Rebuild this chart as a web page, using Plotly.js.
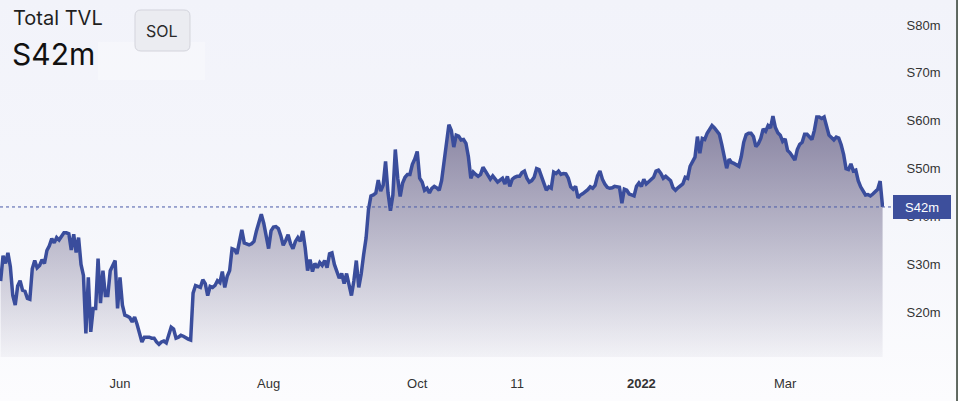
<!DOCTYPE html>
<html>
<head>
<meta charset="utf-8">
<script src="https://cdn.plot.ly/plotly-3.0.1.min.js"></script>
<style>
html,body{margin:0;padding:0;background:#ffffff;}
#chart{width:958px;height:401px;background:linear-gradient(180deg,#f2f3fa 0%,#f5f6fb 55%,#fcfcfe 100%);}
</style>
</head>
<body>
<div id="chart"></div>
<script>
// ---- data: daily Total TVL (millions) ----
const monthKeys = ['2021-04','2021-05','2021-06','2021-07','2021-08','2021-09','2021-10','2021-11','2021-12','2022-01','2022-02','2022-03','2022-04'];
const monthFirstDay = [13,1,1,1,1,1,1,1,1,1,1,1,1];

const tvlApr21 = [26.5,31.8,30.2,32.4,29.5,23.5,21.5,25.5,26.6,24.6,24.4,22.9,22.7,29.1,30.8,29.3,29.8,31.0];
const tvlMay21 = [30.2,32.9,33.9,35.4,34.5,35.6,35.1,36.0,36.6,36.6,36.4,33.0,36.3,32.5,35.6,30.0,27.7,15.6,27.3,15.9,20.8,20.8,31.2,21.9,28.7,23.5,23.5,28.7,29.8,30.8,20.8];
const tvlJun21 = [27.3,21.5,19.4,19.2,18.9,18.0,19.0,17.5,15.5,13.8,14.8,14.8,14.8,14.6,14.6,13.8,13.3,13.8,14.0,13.6,15.5,16.9,16.5,14.6,14.8,15.2,15.0,14.6,14.4,14.2];
const tvlJul21 = [24.0,25.6,25.4,25.2,26.8,26.0,23.5,25.4,25.2,25.6,26.6,26.2,28.5,25.2,27.5,28.7,33.3,33.1,32.2,35.0,37.2,34.5,34.2,34.1,34.3,34.8,37.0,39.0,40.5,38.6,36.0];
const tvlAug21 = [33.3,37.0,37.8,37.9,37.5,36.0,34.0,35.0,36.2,34.3,33.3,34.8,35.6,34.8,37.0,33.5,28.7,31.0,28.5,30.2,29.3,30.4,29.8,30.8,29.3,32.2,32.4,30.0,28.7,27.1,28.1];
const tvlSep21 = [26.0,28.1,25.6,23.5,26.6,30.8,25.2,28.0,32.0,35.5,41.5,44.3,44.5,44.9,47.6,45.3,46.5,51.5,45.0,41.2,44.5,54.0,48.0,44.2,47.0,48.2,48.8,48.8,50.9,52.0];
const tvlOct21 = [53.6,48.0,47.2,45.5,45.9,44.9,45.9,46.3,46.0,45.5,47.5,51.5,55.5,59.2,58.0,54.5,57.0,56.8,56.0,56.1,55.3,52.5,48.0,49.3,48.8,48.4,48.8,50.3,49.5,48.5,47.8];
const tvlNov21 = [48.5,47.8,47.2,47.6,48.0,46.8,48.4,46.3,47.8,48.2,48.4,48.4,49.2,49.5,48.0,47.2,47.5,48.2,50.0,49.8,48.4,47.0,45.5,46.2,45.9,49.3,49.0,49.5,48.8,49.0];
const tvlDec21 = [48.9,48.0,46.2,45.7,46.3,43.9,44.5,44.8,45.1,45.6,46.2,45.9,46.5,48.5,49.5,47.8,46.8,46.1,45.9,46.0,46.3,46.2,46.1,42.8,45.7,45.5,44.7,44.5,44.3,46.3,47.0];
const tvlJan22 = [46.3,47.8,46.8,47.2,47.6,48.2,49.5,49.7,49.0,48.0,48.4,48.0,47.5,46.0,45.5,46.0,46.4,46.8,48.2,48.0,50.5,51.5,52.4,56.7,53.2,56.3,56.1,57.4,58.2,59.0,58.5];
const tvlFeb22 = [57.8,57.2,55.0,52.5,50.1,52.0,51.3,51.1,50.7,50.5,52.5,55.5,57.1,57.4,57.4,56.7,54.6,55.2,56.3,58.3,57.8,59.0,58.5,61.0,58.6,57.5,57.0,55.7];
const tvlMar22 = [56.2,53.8,53.3,52.5,51.8,54.0,55.1,55.5,57.2,57.2,56.5,56.1,58.0,60.8,60.8,60.5,60.8,58.9,57.0,56.5,56.0,56.6,56.4,55.0,53.0,50.0,49.8,51.0,49.5,49.7,47.5];
const tvlApr22 = [46.2,45.4,44.5,44.6,44.3,44.7,45.2,45.7,47.4,42.0];

const tvlByMonth = [tvlApr21,tvlMay21,tvlJun21,tvlJul21,tvlAug21,tvlSep21,tvlOct21,tvlNov21,tvlDec21,tvlJan22,tvlFeb22,tvlMar22,tvlApr22];

const xTickDates = ['2021-06-01','2021-08-01','2021-10-01','2021-11-11','2022-01-01','2022-03-01'];
const xTickLabels = ['Jun','Aug','Oct','11','<b>2022</b>','Mar'];
const yTickVals = [20,30,40,50,60,70,80];
const yTickLabels = ['S20m','S30m','S40m','S50m','S60m','S70m','S80m'];
const lastValue = 42;
const lastLabel = 'S42m';
const titleText = 'Total TVL';
const headlineText = 'S42m';
const tokenText = 'SOL';

// ---- build table ----
const dates = [], values = [];
monthKeys.forEach((m, i) => {
  tvlByMonth[i].forEach((v, j) => {
    const d = monthFirstDay[i] + j;
    dates.push(m + '-' + String(d).padStart(2, '0'));
    values.push(v);
  });
});

const font = 'Liberation Sans, Arial, sans-serif';
const uiFont = 'Inter, Noto Sans, sans-serif';

const trace = {
  type: 'scatter', mode: 'lines', x: dates, y: values,
  line: {color: '#3a4d9c', width: 3.5, shape: 'linear'},
  fill: 'tozeroy',
  fillgradient: {type: 'vertical', start: 10.66, stop: 61,
    colorscale: [[0, 'rgba(110,104,138,0.06)'], [1, 'rgba(108,102,138,0.80)']]},
  hoverinfo: 'skip'
};

// rounded button path in paper coords
const bx0 = 0.1527, bx1 = 0.2149, by0 = 0.8571, by1 = 0.9720, rx = 0.0068, ry = 0.0168;
const btnPath = `M${bx0+rx},${by0} L${bx1-rx},${by0} Q${bx1},${by0} ${bx1},${by0+ry} L${bx1},${by1-ry} Q${bx1},${by1} ${bx1-rx},${by1} L${bx0+rx},${by1} Q${bx0},${by1} ${bx0},${by1-ry} L${bx0},${by0+ry} Q${bx0},${by0} ${bx0+rx},${by0} Z`;

const layout = {
  width: 958, height: 401,
  margin: {l: 0, r: 74, t: 0, b: 44, pad: 0},
  paper_bgcolor: 'rgba(0,0,0,0)', plot_bgcolor: 'rgba(0,0,0,0)',
  showlegend: false,
  xaxis: {
    type: 'date', range: ['2021-04-12 18:00', '2022-04-10 14:00'],
    tickmode: 'array', tickvals: xTickDates, ticktext: xTickLabels,
    showgrid: false, zeroline: false, showline: false,
    ticks: 'outside', ticklen: 14, tickcolor: 'rgba(0,0,0,0)',
    tickfont: {family: font, size: 13, color: '#333333'}
  },
  yaxis: {
    side: 'right', range: [10.66, 85.23],
    tickmode: 'array', tickvals: yTickVals, ticktext: yTickLabels,
    showgrid: false, zeroline: false, showline: false,
    ticks: 'outside', ticklen: 19, tickcolor: 'rgba(0,0,0,0)',
    tickfont: {family: font, size: 13, color: '#333333'}
  },
  shapes: [
    {type: 'rect', xref: 'paper', yref: 'paper', x0: 0.1109, x1: 0.2319, y0: 0.7759, y1: 0.8824,
     fillcolor: 'rgba(255,255,255,0.3)', line: {width: 0}, layer: 'below'},
    {type: 'path', xref: 'paper', yref: 'paper', path: btnPath,
     fillcolor: '#ebecf1', line: {color: '#d3d4dc', width: 1}},
    {type: 'line', xref: 'paper', yref: 'y', x0: 0, x1: 1.0102, y0: lastValue, y1: lastValue,
     line: {color: '#4a5aa8', width: 1, dash: 'dot'}},
    {type: 'line', xref: 'paper', yref: 'paper', x0: 1.0826, x1: 1.0826, y0: -0.1232, y1: 1,
     line: {color: '#2e3a2e', width: 1.5}}
  ],
  annotations: [
    {xref: 'paper', yref: 'paper', x: 0.0125, y: 0.99, xanchor: 'left', yanchor: 'top',
     text: titleText, showarrow: false, font: {family: uiFont, size: 20, color: '#1f1f1f'}},
    {xref: 'paper', yref: 'paper', x: 0.0115, y: 0.905, xanchor: 'left', yanchor: 'top',
     text: headlineText, showarrow: false, font: {family: uiFont, size: 30, color: '#111111'}},
    {xref: 'paper', yref: 'paper', x: 0.1838, y: 0.913, xanchor: 'center', yanchor: 'middle',
     text: tokenText, showarrow: false, font: {family: uiFont, size: 16, color: '#2a2a2a'}},
    {xref: 'paper', yref: 'y', x: 1.0102, y: lastValue, xanchor: 'left', yanchor: 'middle',
     text: lastLabel, showarrow: false, bgcolor: '#3d4f9c', borderpad: 2, borderwidth: 0,
     width: 54, height: 20, align: 'center', font: {family: font, size: 13, color: '#ffffff'}}
  ]
};

Plotly.newPlot('chart', [trace], layout, {staticPlot: true, displayModeBar: false});
</script>
</body>
</html>
